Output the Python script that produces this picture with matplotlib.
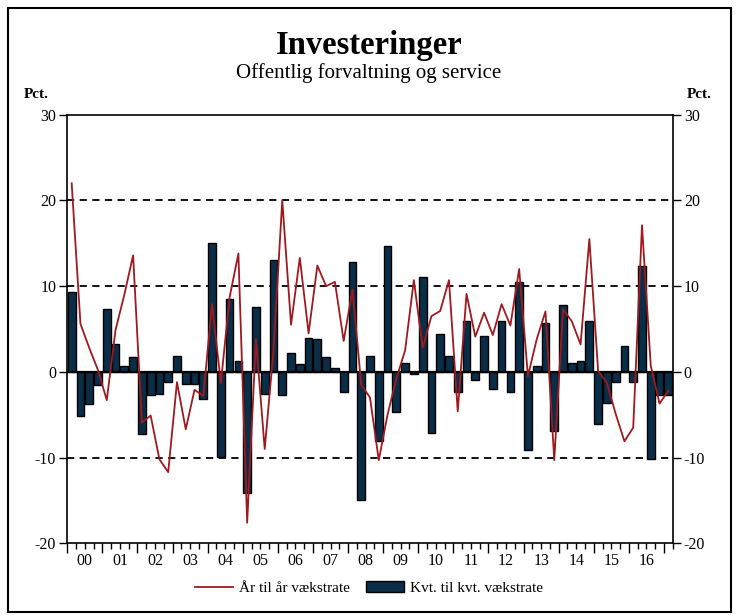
import matplotlib
matplotlib.use("Agg")
import matplotlib.pyplot as plt
from matplotlib.patches import Rectangle, Patch
from matplotlib.lines import Line2D
import matplotlib.transforms as mtransforms
import numpy as np

plt.rcParams['font.family'] = ['Liberation Serif', 'DejaVu Serif']
plt.rcParams['axes.unicode_minus'] = False

years = ["00", "01", "02", "03", "04", "05", "06", "07", "08",
         "09", "10", "11", "12", "13", "14", "15", "16"]

# Kvt. til kvt. vaekstrate (bars), 2000Q1 - 2017Q1
kvt = [9.3, -5.1, -3.7, -1.55, 7.3, 3.2, 0.7, 1.7,
       -7.3, -2.75, -2.6, -1.2, 1.9, -1.4, -1.4, -3.2,
       15.0, -9.9, 8.5, 1.3, -14.1, 7.6, -2.6, 13.1,
       -2.75, 2.2, 0.9, 4.0, 3.8, 1.7, 0.5, -2.4,
       12.8, -15.0, 1.9, -8.1, 14.7, -4.7, 1.05, -0.2,
       11.1, -7.1, 4.4, 1.9, -2.4, 5.9, -1.0, 4.2,
       -2.0, 5.9, -2.4, 10.5, -9.1, 0.7, 5.7, -6.9,
       7.8, 1.05, 1.25, 5.9, -6.1, -3.6, -1.2, 3.0,
       -1.2, 12.3, -10.2, -2.75, -2.75]

# Aar til aar vaekstrate (line)
aar = [22.0, 5.6, 2.8, 0.2, -3.3, 4.9, 9.0, 13.6,
       -5.9, -5.1, -10.2, -11.7, -1.2, -6.7, -2.1, -2.8,
       7.9, -1.3, 8.7, 13.8, -17.6, 3.8, -9.0, 2.5,
       20.0, 5.5, 13.3, 4.5, 12.4, 10.0, 10.5, 3.6,
       9.6, -1.5, -3.0, -10.3, -5.0, -0.8, 2.5, 10.7,
       2.8, 6.5, 7.1, 10.7, -4.6, 9.1, 4.1, 6.9,
       4.3, 7.9, 5.4, 12.0, -0.5, 3.8, 7.05, -10.3,
       7.3, 5.9, 3.2, 15.5, 0.1, -1.3, -4.9, -8.1,
       -6.5, 17.1, 0.7, -3.7, -2.2]

bar_color = "#0a2d48"
line_color = "#a01920"

fig = plt.figure(figsize=(7.38, 6.15), dpi=100)
ax = fig.add_axes([67.3 / 738, 1 - 543.3 / 615, (672.7 - 67.3) / 738, (543.3 - 114.7) / 615])

x = np.arange(len(kvt))
ax.bar(x, kvt, width=0.88, color=bar_color, edgecolor="black", linewidth=1.0, zorder=2)
ax.plot(x, aar, color=line_color, lw=1.3, zorder=3)
ax.axhline(0, color="black", lw=1.6, zorder=2.5)
for yv in (-10, 10, 20):
    ax.axhline(yv, color="black", lw=1.3, ls=(0, (4, 3)), zorder=1)

ax.set_xlim(-0.5, len(kvt) - 0.5)
ax.set_ylim(-20, 30)
ax.set_yticks([-20, -10, 0, 10, 20, 30])
ax.tick_params(axis='y', direction='out', left=True, right=True,
               labelleft=True, labelright=True, length=6, width=1,
               labelsize=11.5, pad=2)
ax.set_xticks(np.arange(-0.5, len(kvt), 4))
ax.set_xticks(np.arange(-0.5, len(kvt), 1), minor=True)
ax.tick_params(axis='x', which='major', direction='out', length=7, width=1, labelbottom=False)
ax.tick_params(axis='x', which='minor', direction='out', length=4, width=1)
for s in ax.spines.values():
    s.set_linewidth(1.2)

trans = mtransforms.blended_transform_factory(ax.transData, ax.transAxes)
for k, lab in enumerate(years):
    ax.text(4 * k + 1.5, -0.022, lab, transform=trans, ha='center', va='top', fontsize=11.5)

fig.text(369 / 738, 1 - 54 / 615, "Investeringer", ha='center', va='baseline',
         fontsize=23.5, fontweight='bold')
fig.text(369 / 738, 1 - 78 / 615, "Offentlig forvaltning og service", ha='center',
         va='baseline', fontsize=15)
fig.text(36 / 738, 1 - 94 / 615, "Pct.", ha='center', va='center', fontsize=11, fontweight='bold')
fig.text(699 / 738, 1 - 94 / 615, "Pct.", ha='center', va='center', fontsize=11, fontweight='bold')

handles = [Line2D([0], [0], color=line_color, lw=1.3),
           Patch(facecolor=bar_color, edgecolor="black", linewidth=1.0)]
fig.legend(handles, ["År til år vækstrate", "Kvt. til kvt. vækstrate"],
           loc='center', bbox_to_anchor=(0.5, 1 - 588 / 615), ncol=2, frameon=False,
           fontsize=11, handlelength=2.5, columnspacing=1.0, handletextpad=0.4)

fig.patches.append(Rectangle((8 / 738, 3 / 615), 723 / 738, 604 / 615, transform=fig.transFigure,
                             fill=False, edgecolor="black", lw=1.5))

fig.savefig("out.png", dpi=100)
